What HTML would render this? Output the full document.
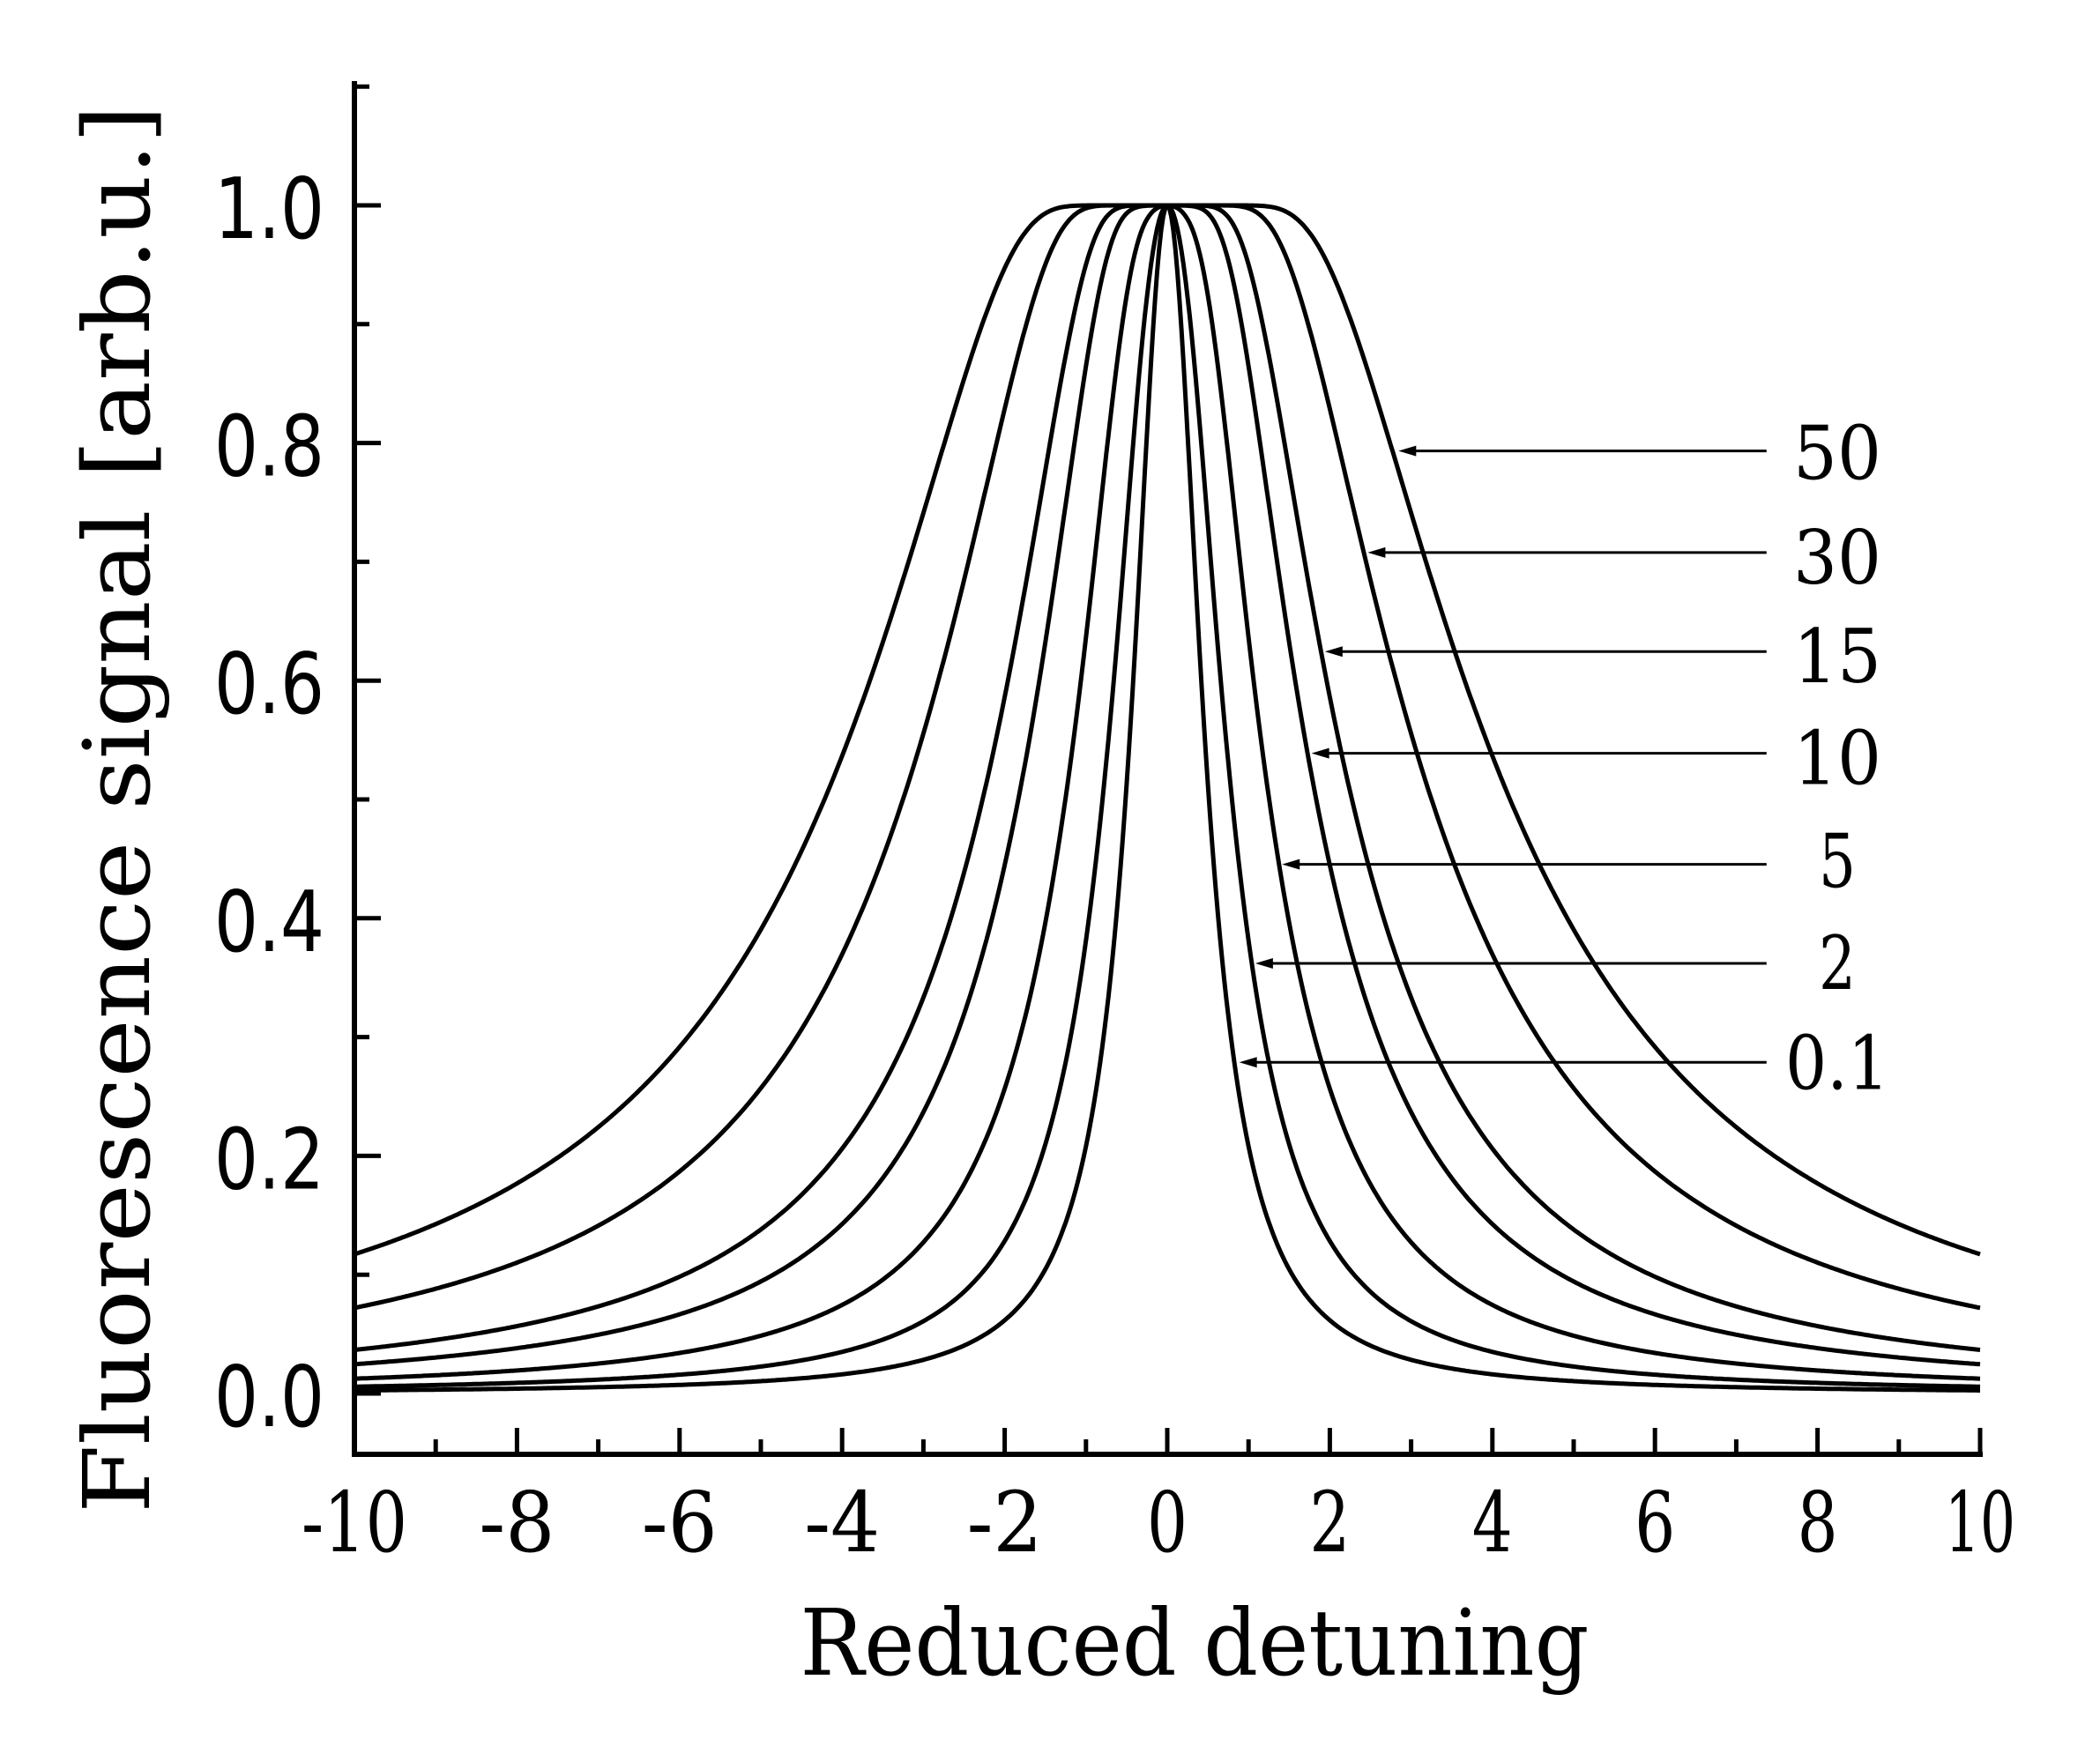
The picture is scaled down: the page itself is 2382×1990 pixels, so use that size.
<!DOCTYPE html>
<html><head><meta charset="utf-8"><style>html,body{margin:0;padding:0;background:#fff}</style></head>
<body>
<svg id="s" width="2382" height="1985" viewBox="0 0 2382 1985" xmlns="http://www.w3.org/2000/svg">
<rect width="2382" height="1985" fill="#fff"/>
<g id="g" fill="none" stroke="#000"></g>
<text x="169" y="918" transform="rotate(-90 169 918)" text-anchor="middle" font-family="DejaVu Serif, Liberation Serif, serif" font-size="104" textLength="1598" lengthAdjust="spacingAndGlyphs">Fluorescence signal [arb.u.]</text>
<text x="1355" y="1900" text-anchor="middle" font-family="DejaVu Serif, Liberation Serif, serif" font-size="104" textLength="895" lengthAdjust="spacingAndGlyphs">Reduced detuning</text>
</svg>
<script>
var NS="http://www.w3.org/2000/svg",g=document.getElementById('g'),S=document.getElementById('s');
var X0=402,X1=2246,Y0=1581,Y1=233;
function px(x){return X0+(x+10)*(X1-X0)/20}
function py(y){return Y0+(Y1-Y0)*y}
function el(t,a,p){var e=document.createElementNS(NS,t);for(var k in a)e.setAttribute(k,a[k]);(p||g).appendChild(e);return e}
function txt(x,y,s,anchor,fam,fs,len){var e=el('text',{x:x,y:y,'text-anchor':anchor,'font-family':fam,'font-size':fs,fill:'#000',stroke:'none'},S);if(len){e.setAttribute('textLength',len);e.setAttribute('lengthAdjust','spacingAndGlyphs')}e.textContent=s}
var yb=1650,yt=95;
el('path',{d:'M'+X0+' '+yt+'V'+yb+'H'+X1,'stroke-width':6,'stroke-linecap':'square'});
for(var i=-10;i<=10;i++){var x=px(i),L=(i%2==0)?30:17;el('line',{x1:x,y1:yb,x2:x,y2:yb-L,'stroke-width':5});
if(i%2==0){var s=String(i);txt(x,1760,s,'middle','DejaVu Serif, Liberation Serif, serif',95,s.length==1?46:(s.length==2?(i<0?86:80):120));}}
for(var j=0;j<=11;j++){var y=py(j/10),L=(j%2==0)?30:17;el('line',{x1:X0,y1:y,x2:X0+L,y2:y,'stroke-width':5});
if(j%2==0&&j<=10){txt(368,y+37,(j/10).toFixed(1),'end','DejaVu Sans, Liberation Sans, sans-serif',95,125);}}
var ss=[0.1,2,5,10,15,30,50];
ss.forEach(function(s){var d='',n=800;for(var k=0;k<=n;k++){var x=-10+20*k/n;var f=(1-Math.exp(-s/(1+4*x*x)))/(1-Math.exp(-s));d+=(k?'L':'M')+px(x).toFixed(1)+' '+py(f).toFixed(1);}el('path',{d:d,'stroke-width':5,'stroke-linejoin':'round'});});
var D=1.518;
var leg=[['50',358,337,1045],['30',436,413,1022],['15',510,487,990],['10',586,563,980],['5',663,646,958],['2',739,720,938],['0.1',814,794,926]];
leg.forEach(function(l){var ly=l[2]*D,ax=l[3]*D,rx=1320*D;
el('line',{x1:ax+14,y1:ly,x2:rx,y2:ly,'stroke-width':3});
el('path',{d:'M'+ax+' '+ly+'L'+(ax+20)+' '+(ly-6)+'L'+(ax+20)+' '+(ly+6)+'Z',fill:'#000',stroke:'none'});
txt(2084,l[1]*D,l[0],'middle','DejaVu Serif, Liberation Serif, serif',84,l[0].length==1?42:(l[0].length==2?100:118));});
</script>
</body></html>
